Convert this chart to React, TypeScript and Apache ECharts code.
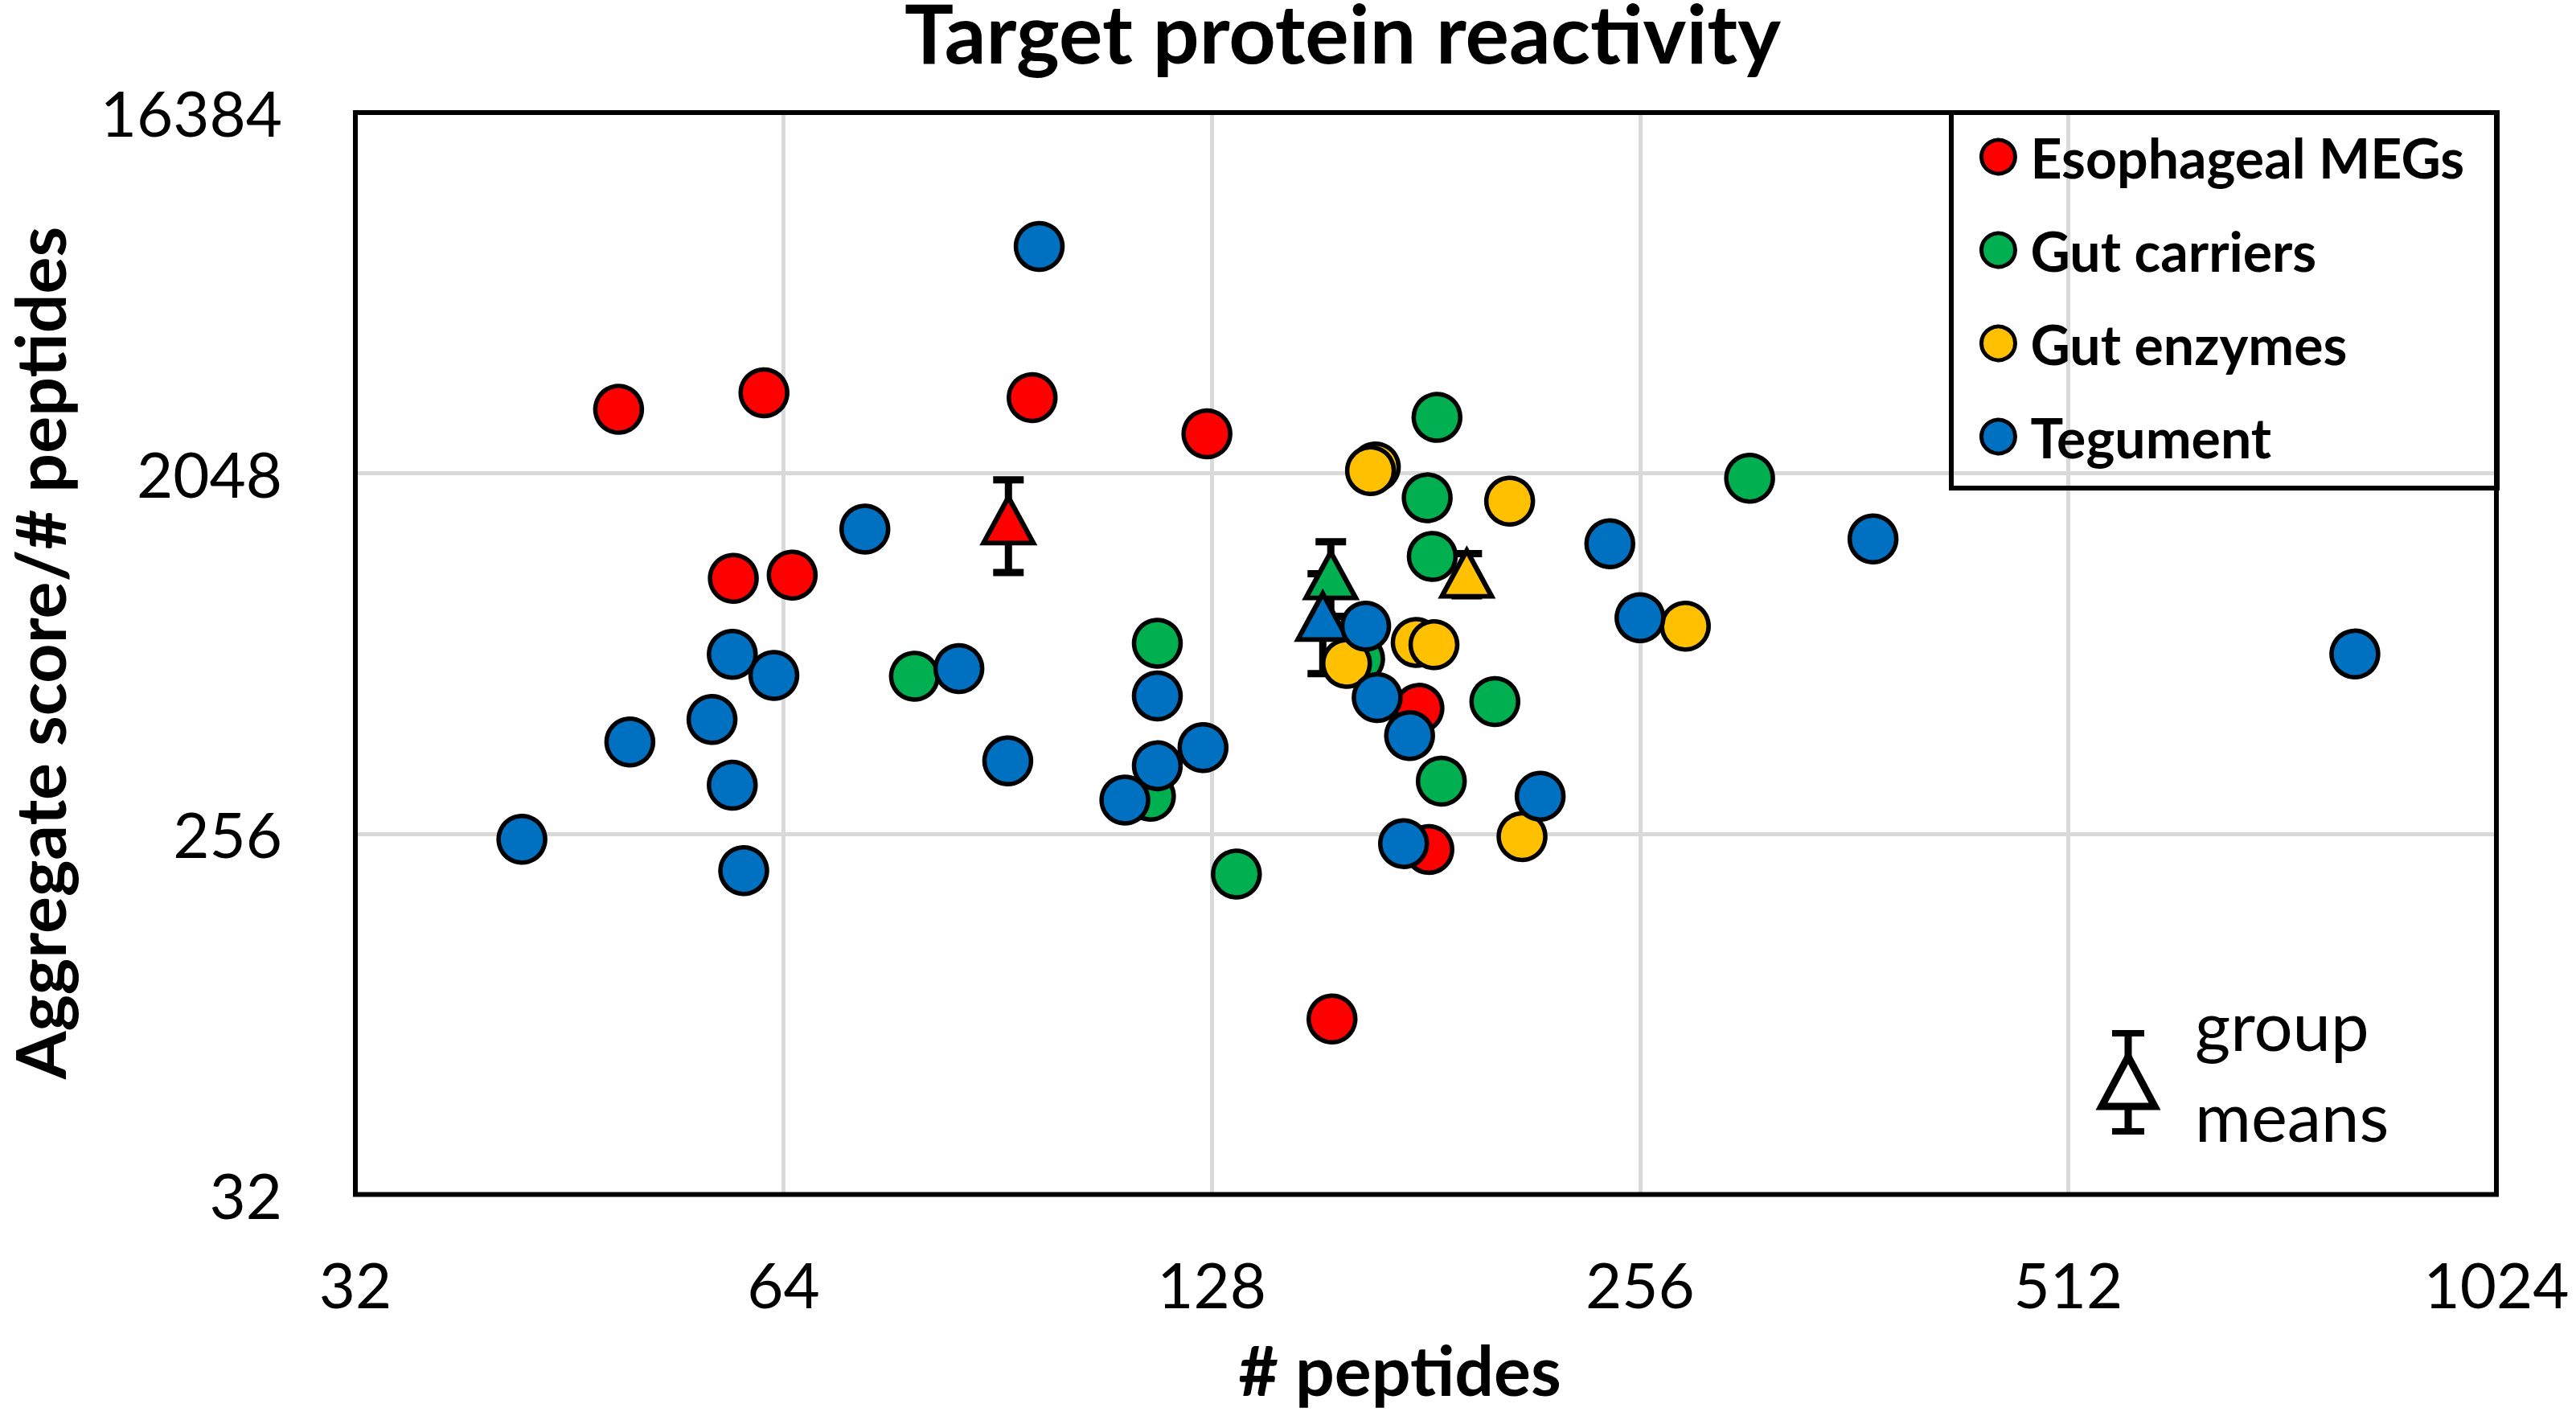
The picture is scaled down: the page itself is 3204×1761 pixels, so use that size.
import React, { useEffect, useRef } from "react";
import * as echarts from "echarts";

const FONT = "Lato, 'Open Sans', sans-serif";

const categories = ["Esophageal MEGs", "Gut carriers", "Gut enzymes", "Tegument"];
const colors = ["#FF0000", "#00B050", "#FFC000", "#0070C0"];

const xTicks = [32, 64, 128, 256, 512, 1024];
const yTicks = [32, 256, 2048, 16384];

const esophagealX = [49, 62, 95.7, 127, 59, 64.9, 179, 181.9, 155.5];
const esophagealY = [2960, 3257, 3166, 2570, 1117, 1138, 528, 234, 88];

const gutCarrierX = [184.3, 305.7, 181.4, 182.9, 117.2, 79.1, 202.4, 185.6, 133.2, 115.9, 162.6];
const gutCarrierY = [2826, 1990, 1777, 1268, 768, 635, 549, 347, 203, 318, 702];

const gutEnzymeX = [166.8, 165.5, 207.3, 275.5, 178.2, 183.4, 159.2, 211.5];
const gutEnzymeY = [2123, 2079, 1743, 848, 772, 762, 684, 252];

const tegumentX = [96.8, 73, 243.8, 373.3, 256, 814.3, 58.9, 63, 85, 57, 49.9, 58.9, 92, 117.2, 126.2, 117.2, 111.2, 164.2, 167.3, 176.3, 217.8, 174.6, 41.9, 60];
const tegumentY = [7570, 1484, 1363, 1402, 890, 722, 721, 638, 664, 495, 435, 339, 390, 567, 421, 379, 311, 848, 562, 451, 318, 242, 248, 207];

const meanX = [92.1, 155.2, 193.4, 153.2];
const meanY = [1563, 1138, 1149, 896];
const meanErr = [408, 241, 139, 251];

const groupsX = [esophagealX, gutCarrierX, gutEnzymeX, tegumentX];
const groupsY = [esophagealY, gutCarrierY, gutEnzymeY, tegumentY];

const GRID = { left: 442, right: 99, top: 140, bottom: 275.5 };
const W = 3204;
const H = 1761;

function buildOption() {
  const errorSeries = {
    type: "custom",
    name: "error bars",
    coordinateSystem: "cartesian2d",
    silent: true,
    z: 2,
    data: meanX.map((x, i) => [x, meanY[i], meanY[i] - meanErr[i], meanY[i] + meanErr[i]]),
    encode: { x: 0, y: [1, 2, 3] },
    renderItem: (params: any, api: any) => {
      const x = api.value(0);
      const lo = api.coord([x, api.value(2)]);
      const hi = api.coord([x, api.value(3)]);
      const c = 19;
      const style = { stroke: "#000", lineWidth: 9, fill: "none" };
      return {
        type: "group",
        children: [
          { type: "line", shape: { x1: lo[0], y1: lo[1], x2: hi[0], y2: hi[1] }, style },
          { type: "line", shape: { x1: lo[0] - c, y1: lo[1], x2: lo[0] + c, y2: lo[1] }, style },
          { type: "line", shape: { x1: hi[0] - c, y1: hi[1], x2: hi[0] + c, y2: hi[1] }, style },
        ],
      };
    },
  };

  const meanSeries = categories.map((name, i) => ({
    type: "scatter",
    name: name + " mean",
    silent: true,
    z: 2,
    symbol: "triangle",
    symbolSize: [62, 57],
    itemStyle: { color: colors[i], borderColor: "#000", borderWidth: 6, opacity: 1 },
    data: [[meanX[i], meanY[i]]],
  }));

  const pointSeries = categories.map((name, i) => ({
    type: "scatter",
    name,
    silent: true,
    z: 2,
    symbol: "circle",
    symbolSize: 58,
    itemStyle: { color: colors[i], borderColor: "#000", borderWidth: 5.5, opacity: 1 },
    data: groupsX[i].map((x, j) => [x, groupsY[i][j]]),
  }));

  return {
    animation: false,
    backgroundColor: "#ffffff",
    grid: {
      left: GRID.left,
      right: GRID.right,
      top: GRID.top,
      bottom: GRID.bottom,
      show: false,
    },
    xAxis: {
      type: "log",
      logBase: 2,
      min: xTicks[0],
      max: xTicks[xTicks.length - 1],
      interval: 1,
      axisLine: { show: false },
      axisTick: { show: false },
      splitLine: { show: true, lineStyle: { color: "#D9D9D9", width: 5 } },
      axisLabel: {
        color: "#000",
        fontFamily: FONT,
        fontSize: 78,
        lineHeight: 78,
        margin: 72,
        formatter: (v: number) => String(Math.round(v)),
      },
    },
    yAxis: {
      type: "log",
      logBase: 2,
      min: yTicks[0],
      max: yTicks[yTicks.length - 1],
      interval: 3,
      axisLine: { show: false },
      axisTick: { show: false },
      splitLine: { show: true, lineStyle: { color: "#D9D9D9", width: 5 } },
      axisLabel: {
        color: "#000",
        fontFamily: FONT,
        fontSize: 78,
        margin: 91,
        formatter: (v: number) => String(Math.round(v)),
      },
    },
    legend: {
      data: categories,
      orient: "vertical",
      left: 2462,
      top: 161,
      padding: 0,
      itemWidth: 70,
      itemHeight: 42,
      itemGap: 48,
      icon: "circle",
      selectedMode: false,
      itemStyle: { borderColor: "#000", borderWidth: 5 },
      textStyle: { fontFamily: FONT, fontWeight: "bold", fontSize: 68, color: "#000", lineHeight: 68 },
    },
    graphic: [
      {
        type: "rect",
        z: 10,
        shape: { x: GRID.left, y: GRID.top, width: W - GRID.left - GRID.right, height: H - GRID.top - GRID.bottom },
        style: { fill: "none", stroke: "#000", lineWidth: 6 },
      },
      {
        type: "text",
        x: 1670,
        y: 39,
        style: {
          text: "Target protein reactivity",
          fontFamily: FONT,
          fontWeight: "bold",
          fontSize: 102,
          lineHeight: 76,
          fill: "#000",
          align: "center",
          verticalAlign: "middle",
        },
      },
      {
        type: "text",
        x: 1741,
        y: 1702,
        style: {
          text: "# peptides",
          fontFamily: FONT,
          fontWeight: "bold",
          fontSize: 86,
          fill: "#000",
          align: "center",
          verticalAlign: "middle",
        },
      },
      {
        type: "text",
        x: 48,
        y: 812,
        rotation: Math.PI / 2,
        style: {
          text: "Aggregate score/# peptides",
          fontFamily: FONT,
          fontWeight: "bold",
          fontSize: 86,
          lineHeight: 80,
          fill: "#000",
          align: "center",
          verticalAlign: "middle",
        },
      },
      {
        type: "rect",
        z: 10,
        shape: { x: 2427, y: 140, width: 679, height: 467 },
        style: { fill: "none", stroke: "#000", lineWidth: 6 },
      },
      {
        type: "group",
        z: 10,
        children: [
          { type: "line", shape: { x1: 2647, y1: 1285, x2: 2647, y2: 1407 }, style: { stroke: "#000", lineWidth: 9 } },
          { type: "line", shape: { x1: 2627, y1: 1285, x2: 2667, y2: 1285 }, style: { stroke: "#000", lineWidth: 8 } },
          { type: "line", shape: { x1: 2627, y1: 1407, x2: 2667, y2: 1407 }, style: { stroke: "#000", lineWidth: 8 } },
          {
            type: "polygon",
            shape: { points: [[2614, 1376], [2680, 1376], [2647, 1314]] },
            style: { fill: "#fff", stroke: "#000", lineWidth: 9, lineJoin: "miter" },
          },
        ],
      },
      {
        type: "text",
        x: 2730,
        y: 1274,
        style: { text: "group", fontFamily: FONT, fontSize: 85, fill: "#000", align: "left", verticalAlign: "middle" },
      },
      {
        type: "text",
        x: 2730,
        y: 1387,
        style: { text: "means", fontFamily: FONT, fontSize: 85, fill: "#000", align: "left", verticalAlign: "middle" },
      },
    ],
    series: [errorSeries, ...meanSeries, ...pointSeries],
  };
}

export default function App() {
  const ref = useRef<HTMLDivElement>(null);
  useEffect(() => {
    document.body.style.margin = "0";
    if (!ref.current) return;
    const chart = echarts.init(ref.current, null, { renderer: "svg", width: W, height: H });
    chart.setOption(buildOption() as any);
    return () => chart.dispose();
  }, []);
  return (
    <div
      ref={ref}
      style={{ position: "fixed", left: 0, top: 0, width: W, height: H, background: "#fff" }}
    />
  );
}
